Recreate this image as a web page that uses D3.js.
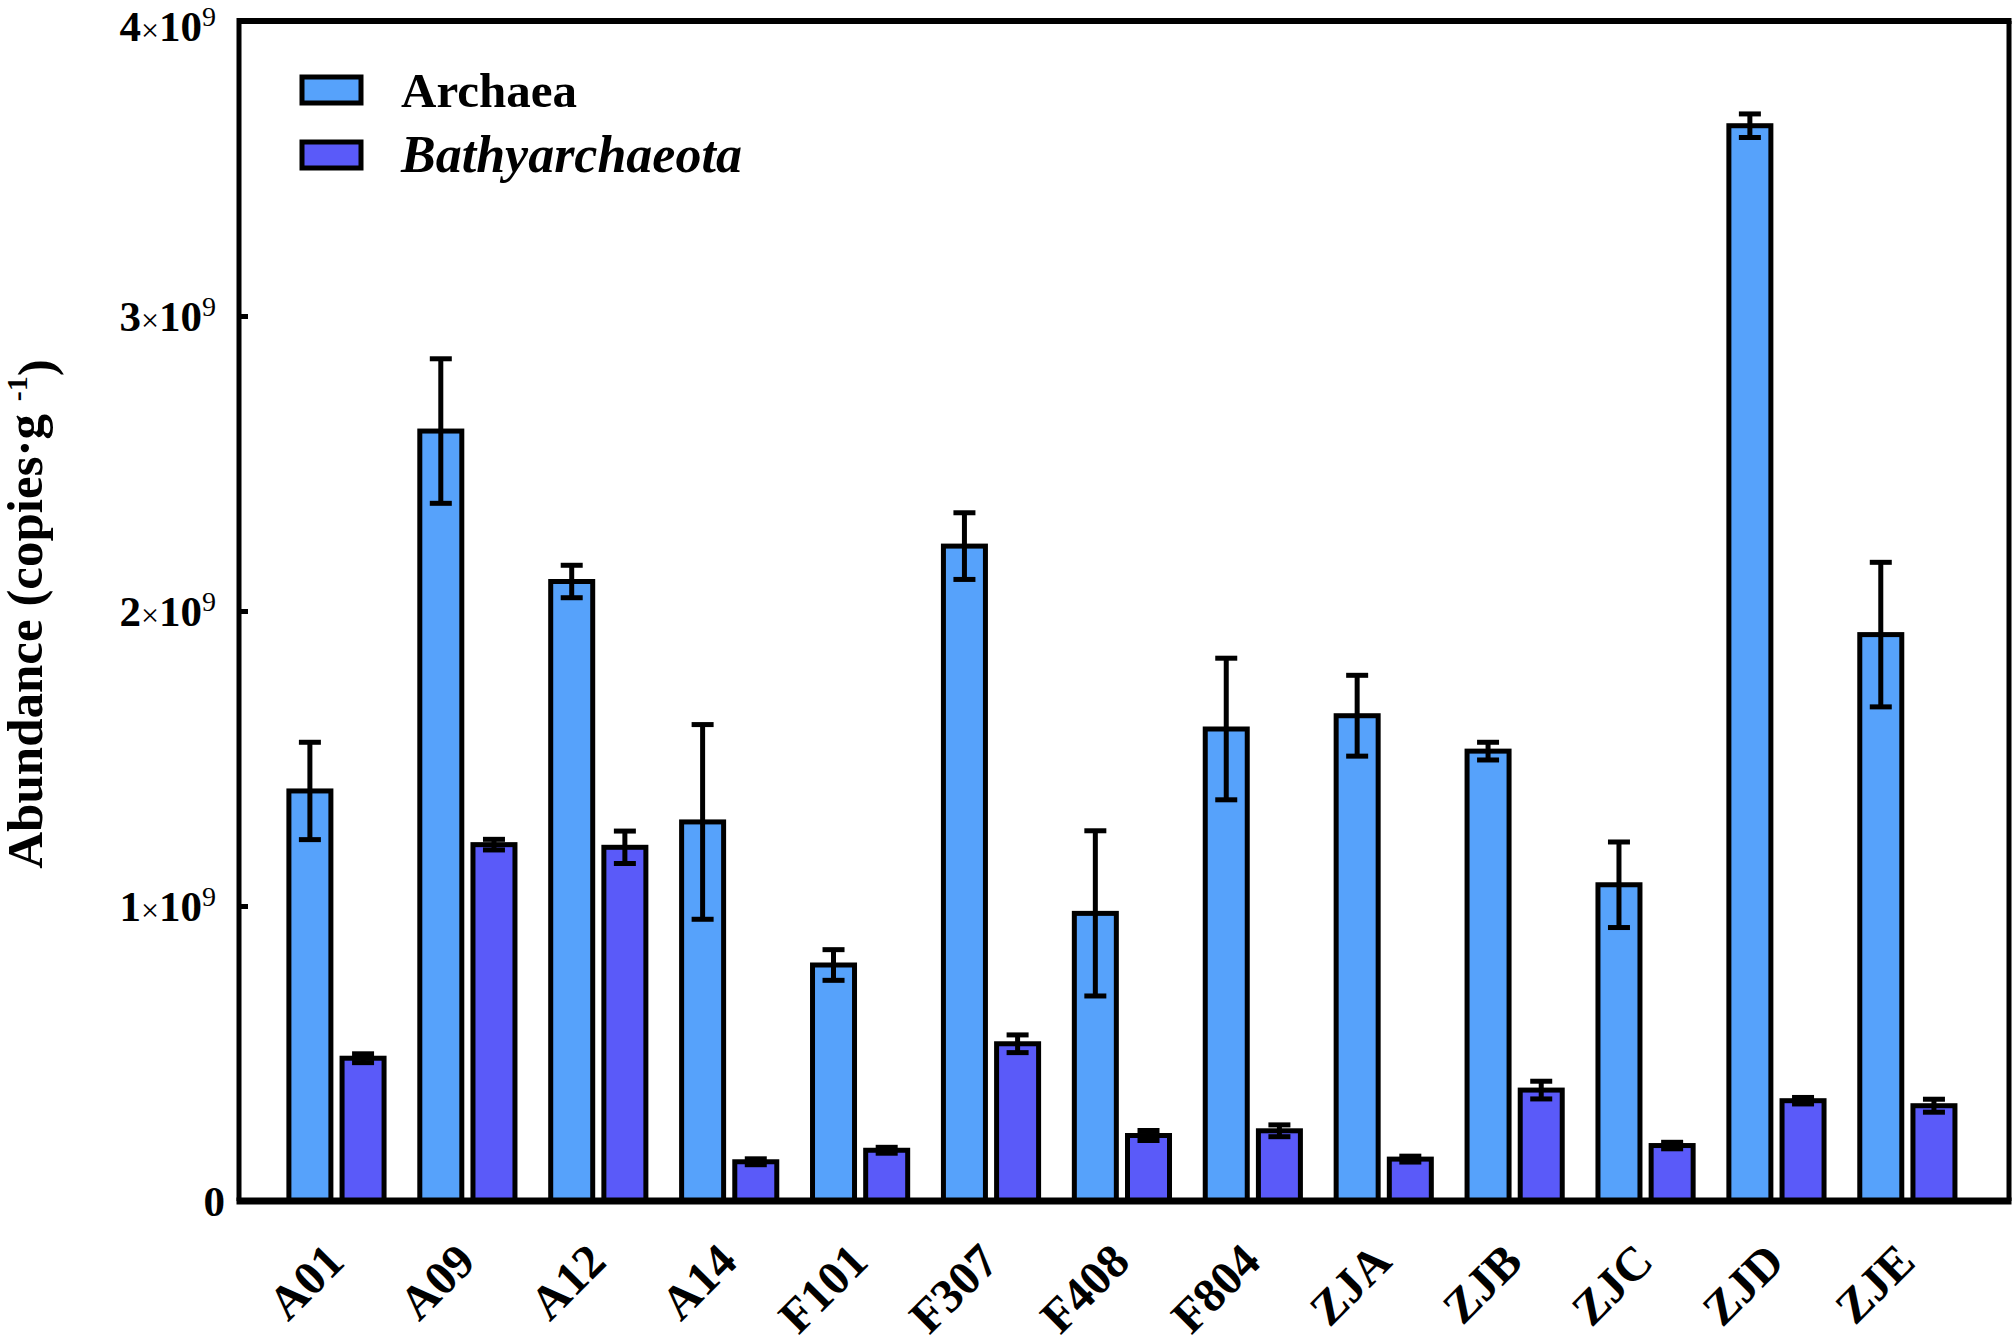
<!DOCTYPE html>
<html>
<head>
<meta charset="utf-8">
<script src="https://cdn.jsdelivr.net/npm/d3@7/dist/d3.min.js"></script>
<style>
  body { margin: 0; background: #fff; }
  svg text { font-family: "Liberation Serif", "Times New Roman", serif; fill: #000; }
</style>
</head>
<body>
<div id="chart"></div>
<script>
// Archaea vs Bathyarchaeota abundance per site (values in 10^9 copies per g)

const sites = ["A01", "A09", "A12", "A14", "F101", "F307", "F408", "F804", "ZJA", "ZJB", "ZJC", "ZJD", "ZJE"];
const archaea = [1.39, 2.61, 2.10, 1.285, 0.80, 2.22, 0.975, 1.60, 1.645, 1.525, 1.072, 3.645, 1.92];
const archaeaErr = [0.165, 0.245, 0.055, 0.33, 0.052, 0.113, 0.28, 0.24, 0.137, 0.03, 0.145, 0.04, 0.245];
const bathy = [0.484, 1.208, 1.199, 0.133, 0.172, 0.533, 0.222, 0.238, 0.142, 0.376, 0.188, 0.34, 0.323];
const bathyErr = [0.015, 0.018, 0.055, 0.01, 0.01, 0.03, 0.017, 0.02, 0.01, 0.03, 0.011, 0.011, 0.022];
const yTicks = [0, 1, 2, 3, 4];

const series = [
  {key: "Archaea", values: archaea, errors: archaeaErr, color: "#56a2fb", italic: false},
  {key: "Bathyarchaeota", values: bathy, errors: bathyErr, color: "#5a5af9", italic: true}
];

const W = 2016, H = 1340;
const pL = 239, pR = 2009, pT = 21, pB = 1201; // plot frame edges

const svg = d3.select("#chart").append("svg")
  .attr("width", W)
  .attr("height", H);

// Scales
const x0 = d3.scaleBand()
  .domain(sites)
  .range([pL, pR])
  .paddingInner(0.273)
  .paddingOuter(0.397)
  .align(0.48);

const x1 = d3.scaleBand()
  .domain(series.map(s => s.key))
  .range([0, x0.bandwidth()])
  .paddingInner(0.21);

const y = d3.scaleLinear()
  .domain([0, 4])
  .range([pB, pT]);

// Rows: one per site and series
const rows = [];
series.forEach(s => {
  sites.forEach((site, i) => {
    rows.push({site: site, key: s.key, v: s.values[i], e: s.errors[i], color: s.color});
  });
});

// Bars
svg.append("g").selectAll("rect")
  .data(rows)
  .enter()
  .append("rect")
  .attr("x", d => x0(d.site) + x1(d.key))
  .attr("y", d => y(d.v))
  .attr("width", x1.bandwidth())
  .attr("height", d => y(0) - y(d.v))
  .attr("fill", d => d.color)
  .attr("stroke", "#000")
  .attr("stroke-width", 5);

// Error bars
const capW = 22;
const eb = svg.append("g")
  .attr("stroke", "#000")
  .attr("stroke-width", 5)
  .selectAll("g")
  .data(rows)
  .enter()
  .append("g")
  .attr("transform", d => `translate(${x0(d.site) + x1(d.key) + x1.bandwidth() / 2} 0)`);

eb.append("line")
  .attr("y1", d => y(d.v - d.e))
  .attr("y2", d => y(d.v + d.e));

eb.append("line")
  .attr("x1", -capW / 2)
  .attr("x2", capW / 2)
  .attr("y1", d => y(d.v + d.e))
  .attr("y2", d => y(d.v + d.e));

eb.append("line")
  .attr("x1", -capW / 2)
  .attr("x2", capW / 2)
  .attr("y1", d => y(d.v - d.e))
  .attr("y2", d => y(d.v - d.e));

// Frame: top and right lines
svg.append("line")
  .attr("x1", pL).attr("x2", pR + 2.5)
  .attr("y1", pT).attr("y2", pT)
  .attr("stroke", "#000").attr("stroke-width", 6);

svg.append("line")
  .attr("x1", pR).attr("x2", pR)
  .attr("y1", pT).attr("y2", pB)
  .attr("stroke", "#000").attr("stroke-width", 5);

// Y axis (ticks pointing inward, custom labels a×10^9)
const yAxis = svg.append("g")
  .attr("transform", `translate(${pL} 0)`)
  .call(d3.axisRight(y).tickValues(yTicks).tickSize(9).tickFormat(""));

yAxis.select(".domain").remove();
yAxis.selectAll(".tick line").attr("stroke", "#000").attr("stroke-width", 5);

svg.append("line")
  .attr("x1", pL).attr("x2", pL)
  .attr("y1", pT - 3).attr("y2", pB)
  .attr("stroke", "#000").attr("stroke-width", 5);

const yLab = svg.append("g").selectAll("text")
  .data(yTicks)
  .enter()
  .append("text")
  .attr("x", pL - 23)
  .attr("y", d => Math.max(y(d), 26))
  .attr("dy", "0.34em")
  .attr("text-anchor", "end")
  .style("font-size", "43px")
  .style("font-weight", "bold");

yLab.filter(d => d === 0).attr("x", pL - 14).text("0");
yLab.filter(d => d !== 0).each(function(d) {
  const t = d3.select(this);
  t.append("tspan").text(d);
  t.append("tspan").style("font-size", "32px").style("font-weight", "normal").text("\u00d7");
  t.append("tspan").text("10");
  t.append("tspan").attr("dy", -15).style("font-size", "28px").style("font-weight", "normal").text("9");
});

// X axis
svg.append("line")
  .attr("x1", pL - 2.5).attr("x2", pR + 2.5)
  .attr("y1", pB).attr("y2", pB)
  .attr("stroke", "#000").attr("stroke-width", 7);

svg.append("g").selectAll("text")
  .data(sites)
  .enter()
  .append("text")
  .attr("transform", d => `translate(${x0(d) + x0.bandwidth() / 2 + 10} 1264) rotate(-45)`)
  .attr("text-anchor", "end")
  .style("font-size", "48px")
  .style("font-weight", "bold")
  .text(d => d);

// Y title
const yTitle = svg.append("text")
  .attr("transform", "translate(42 614) rotate(-90)")
  .attr("text-anchor", "middle")
  .style("font-size", "51px")
  .style("font-weight", "bold");
yTitle.append("tspan").text("Abundance (copies\u00b7g ");
yTitle.append("tspan").attr("dy", "-0.5em").style("font-size", "30px").text("-1");
yTitle.append("tspan").attr("dy", "0.5em").text(")");

// Legend
const legend = svg.append("g")
  .attr("transform", "translate(302 77)");

const li = legend.selectAll("g")
  .data(series)
  .enter()
  .append("g")
  .attr("transform", (d, i) => `translate(0 ${i * 65})`);

li.append("rect")
  .attr("width", 59)
  .attr("height", 26)
  .attr("fill", d => d.color)
  .attr("stroke", "#000")
  .attr("stroke-width", 5);

li.append("text")
  .attr("x", 99)
  .attr("y", 30)
  .style("font-size", d => d.italic ? "52px" : "49px")
  .style("font-weight", "bold")
  .style("font-style", d => d.italic ? "italic" : "normal")
  .text(d => d.key);
</script>
</body>
</html>
